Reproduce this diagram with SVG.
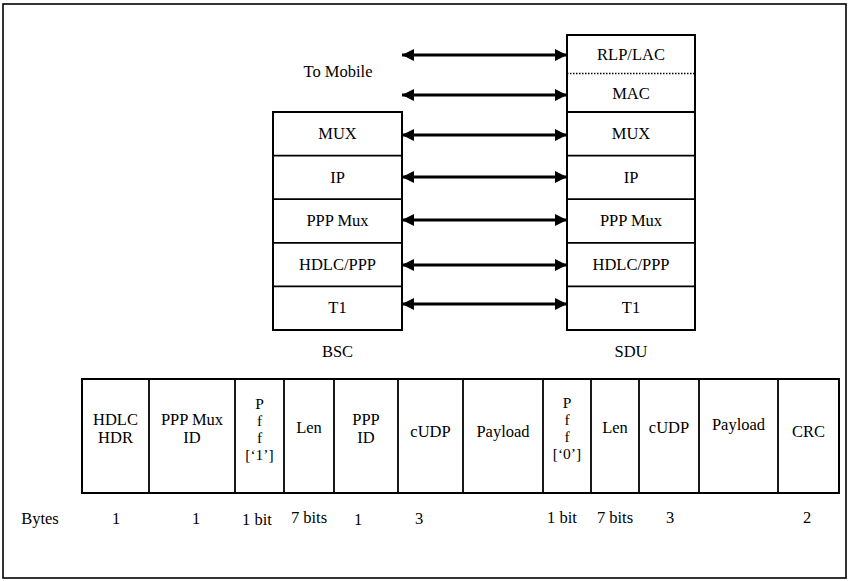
<svg xmlns="http://www.w3.org/2000/svg" width="849" height="581" viewBox="0 0 849 581">
<style>
text{font-family:"Liberation Serif","DejaVu Serif",serif;font-size:16.5px;fill:#000;text-anchor:middle}
.pf{font-size:15.5px}
.box{fill:#fff;stroke:#000;stroke-width:2}
.ln{stroke:#000;stroke-width:1.8}
.arr{stroke:#000;stroke-width:2.8;marker-start:url(#ah);marker-end:url(#ah)}
</style>
<defs>
<marker id="ah" viewBox="0 0 12 12" refX="12" refY="6" markerWidth="12" markerHeight="12" markerUnits="userSpaceOnUse" orient="auto-start-reverse">
<path d="M0,0 L12,6 L0,12 Z" fill="#000"/>
</marker>
</defs>
<rect x="0" y="0" width="849" height="581" fill="#fff"/>
<rect x="3" y="4" width="843" height="574" fill="none" stroke="#000" stroke-width="1.6"/>

<g font-family="Liberation Serif, DejaVu Serif, serif">
<g id="label-to-mobile"><text x="338" y="77">To Mobile</text></g>

<g id="bsc">
<rect class="box" x="273" y="112" width="129" height="218"/>
<line class="ln" x1="273" y1="155.6" x2="402" y2="155.6"/>
<line class="ln" x1="273" y1="199.2" x2="402" y2="199.2"/>
<line class="ln" x1="273" y1="242.8" x2="402" y2="242.8"/>
<line class="ln" x1="273" y1="286.4" x2="402" y2="286.4"/>
<text x="337.5" y="139">MUX</text>
<text x="337.5" y="182.5">IP</text>
<text x="337.5" y="226">PPP Mux</text>
<text x="337.5" y="269.5">HDLC/PPP</text>
<text x="337.5" y="313">T1</text>
<text x="337.5" y="357">BSC</text>
</g>

<g id="sdu">
<rect class="box" x="567" y="35" width="128" height="295"/>
<line x1="567" y1="73.5" x2="695" y2="73.5" stroke="#000" stroke-width="1.5" stroke-dasharray="1.5,1.5"/>
<line class="ln" x1="567" y1="112" x2="695" y2="112"/>
<line class="ln" x1="567" y1="155.6" x2="695" y2="155.6"/>
<line class="ln" x1="567" y1="199.2" x2="695" y2="199.2"/>
<line class="ln" x1="567" y1="242.8" x2="695" y2="242.8"/>
<line class="ln" x1="567" y1="286.4" x2="695" y2="286.4"/>
<text x="631" y="60">RLP/LAC</text>
<text x="631" y="99">MAC</text>
<text x="631" y="139">MUX</text>
<text x="631" y="182.5">IP</text>
<text x="631" y="226">PPP Mux</text>
<text x="631" y="269.5">HDLC/PPP</text>
<text x="631" y="313">T1</text>
<text x="631" y="357">SDU</text>
</g>

<g id="connectors">
<line class="arr" x1="402" y1="55" x2="567" y2="55"/>
<line class="arr" x1="402" y1="95" x2="567" y2="95"/>
<line class="arr" x1="402" y1="135" x2="567" y2="135"/>
<line class="arr" x1="402" y1="177" x2="567" y2="177"/>
<line class="arr" x1="402" y1="220" x2="567" y2="220"/>
<line class="arr" x1="402" y1="265" x2="567" y2="265"/>
<line class="arr" x1="402" y1="304" x2="567" y2="304"/>
</g>

<g id="packet">
<rect class="box" x="82" y="379" width="757" height="114"/>
<line class="ln" x1="149" y1="379" x2="149" y2="493"/>
<line class="ln" x1="235" y1="379" x2="235" y2="493"/>
<line class="ln" x1="284" y1="379" x2="284" y2="493"/>
<line class="ln" x1="334" y1="379" x2="334" y2="493"/>
<line class="ln" x1="398" y1="379" x2="398" y2="493"/>
<line class="ln" x1="463" y1="379" x2="463" y2="493"/>
<line class="ln" x1="543" y1="379" x2="543" y2="493"/>
<line class="ln" x1="591" y1="379" x2="591" y2="493"/>
<line class="ln" x1="639" y1="379" x2="639" y2="493"/>
<line class="ln" x1="699" y1="379" x2="699" y2="493"/>
<line class="ln" x1="778" y1="379" x2="778" y2="493"/>
<text x="115.5" y="425">HDLC</text>
<text x="115.5" y="443">HDR</text>
<text x="192" y="425">PPP Mux</text>
<text x="192" y="443">ID</text>
<text class="pf" x="259.5" y="409">P</text>
<text class="pf" x="259.5" y="426">f</text>
<text class="pf" x="259.5" y="443">f</text>
<text class="pf" x="259.5" y="460">[‘1’]</text>
<text x="309" y="433">Len</text>
<text x="366" y="425">PPP</text>
<text x="366" y="443">ID</text>
<text x="430.5" y="437">cUDP</text>
<text x="503" y="437">Payload</text>
<text class="pf" x="567" y="408">P</text>
<text class="pf" x="567" y="425">f</text>
<text class="pf" x="567" y="442">f</text>
<text class="pf" x="567" y="459">[‘0’]</text>
<text x="615" y="433">Len</text>
<text x="669" y="433">cUDP</text>
<text x="738.5" y="430">Payload</text>
<text x="808.5" y="437">CRC</text>
</g>

<g id="bytes">
<text x="40" y="524">Bytes</text>
<text x="116" y="524">1</text>
<text x="196" y="524">1</text>
<text x="257" y="525">1 bit</text>
<text x="309" y="523">7 bits</text>
<text x="358" y="525">1</text>
<text x="419" y="524">3</text>
<text x="562" y="523">1 bit</text>
<text x="615" y="523">7 bits</text>
<text x="670" y="523">3</text>
<text x="807" y="523">2</text>
</g>
</g>
</svg>
